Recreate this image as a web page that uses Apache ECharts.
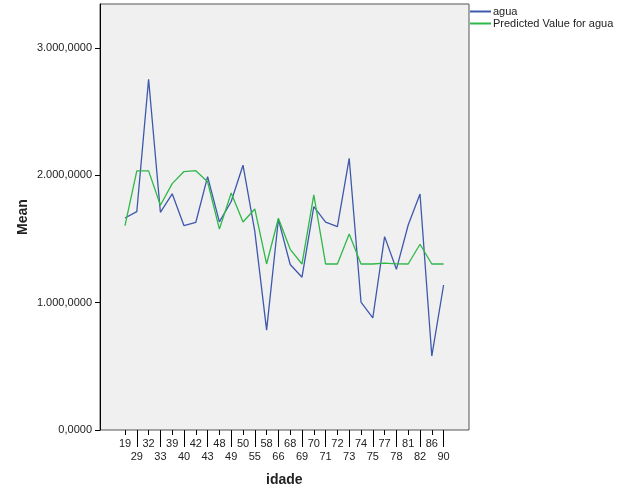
<!DOCTYPE html>
<html>
<head>
<meta charset="utf-8">
<script src="https://cdn.jsdelivr.net/npm/echarts@6/dist/echarts.min.js"></script>
<style>
  html, body { margin: 0; padding: 0; background: #ffffff; }
  #chart { width: 626px; height: 501px; }
</style>
</head>
<body>
<div id="chart"></div>
<script>
var categories = ['19','29','32','33','39','40','42','43','48','49','50','55','58','66','68','69','70','71','72','73','74','75','77','78','81','82','86','90'];
var aguaValues = [1665,1715,2755,1710,1855,1605,1630,1990,1635,1795,2080,1560,785,1655,1300,1200,1755,1632,1597,2134,1005,880,1519,1262,1610,1854,581,1139];
var predictedValues = [1605,2035,2035,1765,1935,2030,2037,1950,1578,1862,1634,1736,1304,1663,1419,1304,1846,1304,1304,1540,1304,1304,1310,1305,1304,1459,1304,1304];
var seriesNames = ['agua', 'Predicted Value for agua'];
var yMin = 0, yMax = 3346, yInterval = 1000;

function fmtNum(v) {
  var s = Math.round(v).toString().replace(/\B(?=(\d{3})+(?!\d))/g, '.');
  return s + ',0000';
}

var FONT = 'Liberation Sans, Arial, sans-serif';
var chart = echarts.init(document.getElementById('chart'), null, { renderer: 'canvas' });
chart.setOption({
  animation: false,
  backgroundColor: '#ffffff',
  textStyle: { fontFamily: FONT },
  legend: {
    orient: 'vertical',
    left: 469,
    top: 6,
    itemWidth: 21,
    itemHeight: 12,
    itemGap: 1,
    padding: 0,
    itemStyle: { opacity: 0 },
    textStyle: { fontSize: 11, color: '#222', fontFamily: FONT, padding: [0, 0, 0, -3] },
    data: seriesNames
  },
  grid: [
    { left: 100, top: 4, width: 369, height: 426, show: true, backgroundColor: '#F0F0F0', borderColor: '#555', borderWidth: 1 },
    { left: 125, top: 4, width: 318.6, height: 426 }
  ],
  xAxis: [
    { gridIndex: 0, type: 'value', min: 0, max: 1, show: false },
    {
      gridIndex: 1, type: 'category', boundaryGap: false, data: categories, position: 'bottom',
      axisLine: { show: false },
      axisTick: { show: true, length: 5, interval: function (i) { return i % 2 === 0; }, lineStyle: { color: '#000' } },
      axisLabel: {
        interval: 0, margin: 7, fontSize: 11, color: '#222', lineHeight: 13, fontFamily: FONT,
        formatter: function (v, i) { return i % 2 ? '\n' + v : v; }
      },
      name: 'idade', nameLocation: 'middle', nameGap: 43, nameMoveOverlap: false,
      nameTextStyle: { fontSize: 14, fontWeight: 'bold', color: '#222', fontFamily: FONT },
      splitLine: { show: false }
    },
    {
      gridIndex: 1, type: 'category', boundaryGap: false, data: categories, position: 'bottom', offset: 0,
      axisLine: { show: false },
      axisTick: { show: true, length: 17, interval: function (i) { return i % 2 === 1; }, lineStyle: { color: '#000' } },
      axisLabel: { show: false },
      splitLine: { show: false }
    }
  ],
  yAxis: [
    {
      gridIndex: 0, type: 'value', min: yMin, max: yMax, interval: yInterval,
      axisLine: { show: true, lineStyle: { color: '#000', width: 1 } },
      axisTick: { show: true, length: 5, lineStyle: { color: '#000' } },
      axisLabel: { fontSize: 11, color: '#222', margin: 8, fontFamily: FONT, formatter: fmtNum,
        showMaxLabel: false },
      splitLine: { show: false },
      name: 'Mean', nameLocation: 'middle', nameGap: 70, nameRotate: 90, nameMoveOverlap: false,
      nameTextStyle: { fontSize: 14, fontWeight: 'bold', color: '#222', fontFamily: FONT }
    },
    { gridIndex: 1, type: 'value', min: yMin, max: yMax, show: false, splitLine: { show: false } }
  ],
  series: [
    {
      name: seriesNames[0], type: 'line', xAxisIndex: 1, yAxisIndex: 1, data: aguaValues,
      symbol: 'none', lineStyle: { color: '#3E58AC', width: 1.3 }, itemStyle: { color: '#3E58AC' }
    },
    {
      name: seriesNames[1], type: 'line', xAxisIndex: 1, yAxisIndex: 1, data: predictedValues,
      symbol: 'none', lineStyle: { color: '#2EB848', width: 1.3 }, itemStyle: { color: '#2EB848' }
    }
  ]
});
</script>
</body>
</html>
